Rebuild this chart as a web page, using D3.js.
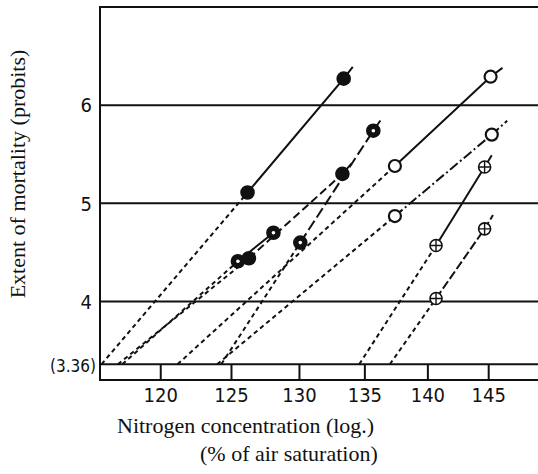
<!DOCTYPE html>
<html>
<head>
<meta charset="utf-8">
<script src="https://cdn.jsdelivr.net/npm/d3@7"></script>
<style>
  body { margin: 0; background: #fff; }
  .num { font-family: "Liberation Sans Narrow", "DejaVu Sans Condensed", "Liberation Sans", sans-serif; font-stretch: condensed; fill: #111; }
  .title { font-family: "Liberation Serif", "DejaVu Serif", serif; fill: #111; }
</style>
</head>
<body>
<div class="chart"></div>
<script>

// probit lines, one entry per series
var series = ["a", "b", "c", "d", "e", "f", "g", "h"];
var pointX = [[126.2, 133.4], [126.3, 133.3], [125.5, 128.1], [130.1, 135.7], [137.4, 145.2], [137.4, 145.3], [140.7, 144.7], [140.7, 144.7]];
var pointY = [[5.11, 6.27], [4.44, 5.30], [4.41, 4.70], [4.60, 5.74], [5.38, 6.29], [4.87, 5.70], [4.57, 5.37], [4.03, 4.74]];
// where each fitted line meets the control level (3.36)
var baseX = [116.0, 117.1, 117.4, 124.3, 121.2, 124.0, 134.6, 137.0];
// end of each drawn line, past the last point
var tipX = [134.1, 134.1, 128.4, 136.4, 146.2, 146.6, 145.3, 145.4];
var tipY = [6.39, 5.42, 4.74, 5.87, 6.38, 5.84, 5.49, 4.88];

var xTicks = [120, 125, 130, 135, 140, 145];
var yGrid = [3.36, 4, 5, 6];
var controlLevel = 3.36;

var width = 538, height = 474;
var ink = "#111";

// marker + line style for each series
var markerOf = { a: "filled", b: "filled", c: "ringdot", d: "ringdot", e: "open", f: "open", g: "plus", h: "plus" };
var dashOf = { a: null, b: "8,4", c: null, d: "11,4", e: null, f: "10,3,2,3", g: null, h: "9,3" };

var svg = d3.select(".chart")
  .append("svg")
    .attr("width", width)
    .attr("height", height);

var x = d3.scaleLog()
    .domain([115.9, 149.4])
    .range([100, 540]);

var y = d3.scaleLinear()
    .domain([3.2, 7.0])
    .range([380, 7]);

// frame
var frame = svg.append("g").attr("stroke", ink).attr("stroke-width", 2);
frame.append("line").attr("x1", x.range()[0]).attr("x2", x.range()[0]).attr("y1", y(7.0) - 1).attr("y2", y(3.2) + 1);
frame.append("line").attr("x1", x.range()[0]).attr("x2", x.range()[1]).attr("y1", y(7.0)).attr("y2", y(7.0));
frame.append("line").attr("x1", x.range()[0]).attr("x2", x.range()[1]).attr("y1", y(3.2)).attr("y2", y(3.2));

// horizontal rules
svg.append("g").selectAll("line")
    .data(yGrid)
    .enter()
    .append("line")
    .attr("x1", x.range()[0])
    .attr("x2", x.range()[1])
    .attr("y1", function(d) { return y(d); })
    .attr("y2", function(d) { return y(d); })
    .attr("stroke", ink)
    .attr("stroke-width", 2);

// x axis: ticks sit in the strip under the control level
var xAxis = svg.append("g")
    .attr("class", "num")
    .attr("transform", "translate(0," + y(controlLevel) + ")")
    .call(d3.axisBottom(x)
        .tickValues(xTicks)
        .tickFormat(d3.format("d"))
        .tickSize(y(3.2) - y(controlLevel))
        .tickPadding(8));
xAxis.select(".domain").remove();
xAxis.selectAll(".tick line").attr("stroke", ink).attr("stroke-width", 2);
xAxis.selectAll("text")
    .attr("class", "num")
    .style("font-size", "20px")
    .attr("fill", ink);

// y axis labels
var yAxis = svg.append("g")
    .attr("transform", "translate(" + x.range()[0] + ",0)")
    .call(d3.axisLeft(y)
        .tickValues(yGrid)
        .tickSize(0)
        .tickPadding(8)
        .tickFormat(function(d) { return d === controlLevel ? "(" + d + ")" : d; }));
yAxis.select(".domain").remove();
yAxis.selectAll("text")
    .attr("class", "num")
    .attr("fill", ink)
    .style("font-size", function(d) { return d === controlLevel ? "17px" : "20px"; })
    .attr("x", function(d) { return d === controlLevel ? -4 : -8; })
    .attr("dy", function(d) { return d === controlLevel ? "0.45em" : "0.34em"; });

// lines
var rows = series.map(function(s, i) {
    return {
        name: s,
        points: pointX[i].map(function(v, j) { return [v, pointY[i][j]]; }),
        base: [baseX[i], controlLevel],
        tip: [tipX[i], tipY[i]]
    };
});

var line = d3.line()
    .x(function(d) { return x(d[0]); })
    .y(function(d) { return y(d[1]); });

var groups = svg.selectAll(".series")
    .data(rows)
    .enter()
    .append("g")
    .attr("class", "series");

// extrapolation down to the control level
groups.append("path")
    .attr("d", function(d) { return line([d.base, d.points[0]]); })
    .attr("fill", "none")
    .attr("stroke", ink)
    .attr("stroke-width", 2)
    .attr("stroke-dasharray", "4.5,3.5");

groups.append("path")
    .attr("d", function(d) { return line(d.points.concat([d.tip])); })
    .attr("fill", "none")
    .attr("stroke", ink)
    .attr("stroke-width", 2)
    .attr("stroke-dasharray", function(d) { return dashOf[d.name]; });

// markers
var r = 6;
var marks = groups.selectAll(".mark")
    .data(function(d) { return d.points.map(function(p) { return { p: p, kind: markerOf[d.name] }; }); })
    .enter()
    .append("g")
    .attr("class", "mark")
    .attr("transform", function(d) { return "translate(" + x(d.p[0]) + "," + y(d.p[1]) + ")"; });

marks.append("circle")
    .attr("r", function(d) { return d.kind === "filled" || d.kind === "ringdot" ? r + 0.5 : r; })
    .attr("fill", function(d) { return d.kind === "filled" || d.kind === "ringdot" ? ink : "#fff"; })
    .attr("stroke", ink)
    .attr("stroke-width", function(d) { return d.kind === "open" ? 2.2 : 1.6; });

marks.filter(function(d) { return d.kind === "ringdot"; })
    .append("circle")
    .attr("r", 1.8)
    .attr("fill", "#fff");

marks.filter(function(d) { return d.kind === "plus"; })
    .append("path")
    .attr("d", "M" + (-r) + ",0H" + r + "M0," + (-r) + "V" + r)
    .attr("stroke", ink)
    .attr("stroke-width", 1.4);

// titles
svg.append("text")
    .attr("class", "title")
    .attr("transform", "translate(25,174) rotate(-90)")
    .attr("text-anchor", "middle")
    .style("font-size", "22px")
    .text("Extent of mortality (probits)");

svg.append("text")
    .attr("class", "title")
    .attr("x", 117)
    .attr("y", 433)
    .style("font-size", "22px")
    .text("Nitrogen concentration (log.)");

svg.append("text")
    .attr("class", "title")
    .attr("x", 200)
    .attr("y", 461)
    .style("font-size", "22px")
    .text("(% of air saturation)");

</script>
</body>
</html>
